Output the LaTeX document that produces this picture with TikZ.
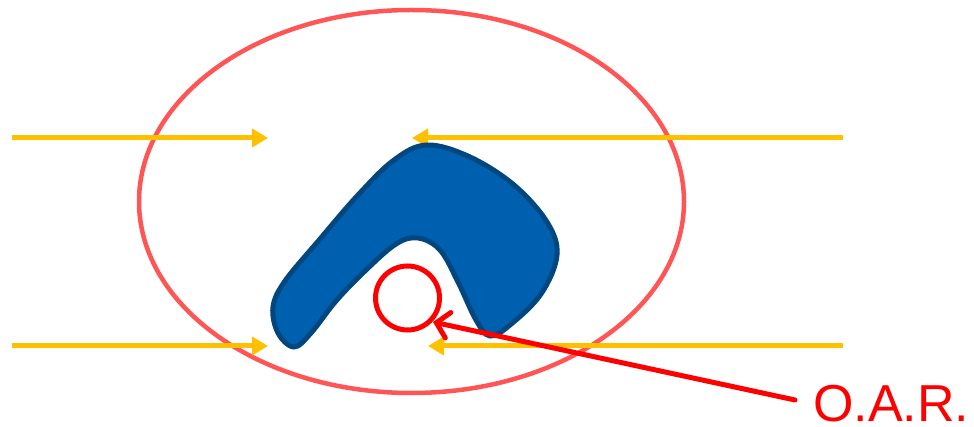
\documentclass[tikz,border=0pt]{standalone}
\usepackage{fontspec}
\setmainfont{Liberation Sans}
\usetikzlibrary{arrows.meta,shapes.geometric}
\definecolor{ellred}{HTML}{FF5555}
\definecolor{oarred}{HTML}{FF0000}
\definecolor{beamyel}{HTML}{FFC000}
\definecolor{tumfill}{HTML}{0060B0}
\definecolor{tumedge}{HTML}{00467F}
\tikzset{
  beam/.style={draw=beamyel, line width=5pt, -{Triangle[length=16pt,width=18pt]}},
  pointer/.style={draw=oarred, line width=5pt, line cap=round, -{Straight Barb[length=12pt,width=26pt,line cap=round]}},
}
\begin{document}
\begin{tikzpicture}[x=1pt,y=-1pt]
\useasboundingbox (0,0) rectangle (974,427);
% body contour
\node[draw=ellred, line width=4.5pt, ellipse, minimum width=545pt, minimum height=383pt, inner sep=0pt] (body) at (411.5,201.5) {};
% beams
\coordinate (b1s) at (12,138); \coordinate (b1e) at (268,138);
\coordinate (b2s) at (843,138); \coordinate (b2e) at (412,138);
\coordinate (b3s) at (12,346); \coordinate (b3e) at (268,346);
\coordinate (b4s) at (843,346); \coordinate (b4e) at (428,346);
\draw[beam] (b1s) -- (b1e);
\draw[beam] (b2s) -- (b2e);
\draw[beam] (b3s) -- (b3e);
% tumour
\draw[fill=tumfill, draw=tumedge, line width=5pt] plot[smooth cycle, tension=0.6] coordinates {
 (427,145) (470,157) (514,185) (547,222) (557,255) (541,294) (510,325) (490,336) (476,320) (458,282) (440,250) (418,238) (396,244) (365,271) (336,301) (311,333) (294,347) (278,333) (273,307) (285,281) (320,239) (358,195) (394,160)};
\draw[beam] (b4s) -- (b4e);
% organ at risk
\node[draw=oarred, line width=5pt, circle, minimum size=64pt, inner sep=0pt] (oar) at (407.5,298) {};
\node[text=oarred, font=\fontsize{52}{60}\selectfont, anchor=base west, inner sep=0pt] (lab) at (813,421) {O.A.R.};
\coordinate (pstart) at (795,400);
\coordinate (ptip) at (433,322);
\draw[pointer] (pstart) -- (ptip);
\end{tikzpicture}
\end{document}
